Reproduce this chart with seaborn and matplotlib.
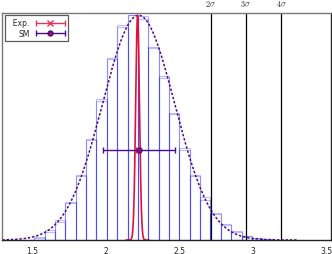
import numpy as np
import pandas as pd
import seaborn as sns
import matplotlib
matplotlib.use("Agg")
import matplotlib.pyplot as plt
from matplotlib.ticker import MultipleLocator
from matplotlib.legend_handler import HandlerErrorbar
from matplotlib.container import ErrorbarContainer

# ---------------- data ----------------
bin_edges = [1.517 + 0.0703 * k for k in range(24)]
hist_a = [0.009, 0.036, 0.080, 0.165, 0.285, 0.445, 0.627, 0.810, 0.948, 1.000,
          0.996, 0.854, 0.730, 0.565, 0.410, 0.285, 0.178, 0.116, 0.067, 0.036,
          0.018, 0.009, 0.004]
hist_b = [0.012, 0.045, 0.090, 0.170, 0.290, 0.450, 0.620, 0.805, 0.955, 1.000,
          0.985, 0.860, 0.720, 0.560, 0.400, 0.290, 0.190, 0.120, 0.070, 0.040,
          0.020, 0.010, 0.005]

sm_mean, sm_sigma = 2.225, 0.2445
exp_mean, exp_sigma = 2.218, 0.013
point_y = 0.40
sigma_lines = [2.714, 2.953, 3.194]
sigma_labels = [r"$2\sigma$", r"$3\sigma$", r"$4\sigma$"]
xticks = [1.5, 2.0, 2.5, 3.0, 3.5]
xtick_labels = ["1.5", "2", "2.5", "3", "3.5"]
legend_labels = ["Exp.", "SM"]

# ---------------- figure ----------------
sns.set_style("white")
plt.rcParams["font.family"] = ["DejaVu Sans"]
plt.rcParams["mathtext.fontset"] = "cm"

fig = plt.figure(figsize=(3.32, 2.55), dpi=100)
ax = fig.add_axes([1.5 / 332, 14 / 255, 329.5 / 332, 227 / 255])

centers = [(bin_edges[i] + bin_edges[i + 1]) / 2 for i in range(len(hist_a))]
df = pd.DataFrame({"x": centers, "a": hist_a, "b": hist_b})

sns.histplot(data=df, x="x", weights="b", bins=bin_edges, element="bars",
             fill=False, color="#0000ff", linewidth=0.8, ax=ax)
sns.histplot(data=df, x="x", weights="a", bins=bin_edges, element="bars",
             fill=False, color="#0000ff", linewidth=0.8, ax=ax)
for p in ax.patches:
    p.set_alpha(None)
    p.set_edgecolor((0.0, 0.0, 1.0, 0.26))

# SM gaussian (dashed purple)
xs = np.linspace(1.3, 3.3, 600)
sm_curve = np.exp(-0.5 * ((xs - sm_mean) / sm_sigma) ** 2)
sns.lineplot(x=xs, y=sm_curve, ax=ax, color="#4b0a8c", linewidth=1.1,
             linestyle=(0, (1.6, 1.2)))

# Exp gaussian (narrow red)
xe = np.linspace(exp_mean - 6 * exp_sigma, exp_mean + 6 * exp_sigma, 300)
exp_curve = np.exp(-0.5 * ((xe - exp_mean) / exp_sigma) ** 2)
sns.lineplot(x=xe, y=exp_curve, ax=ax, color="#e0103c", linewidth=1.2)

# sigma lines
for xv, lab in zip(sigma_lines, sigma_labels):
    ax.axvline(xv, color="black", linewidth=0.9)
    ax.text(xv, 1.045, lab, ha="center", va="center", fontsize=6,
            transform=ax.get_xaxis_transform())

# error bar points
ax.errorbar([exp_mean], [point_y], xerr=[exp_sigma], fmt="x", color="#e8325a",
            ms=4, mew=1, capsize=2, elinewidth=1, label="  " + legend_labels[0])
ax.errorbar([sm_mean], [point_y], xerr=[sm_sigma], fmt="o", color="#4b0a8c",
            mfc="#9b1050", mec="#4b0a8c", ms=3.5, mew=1, capsize=2,
            elinewidth=1, label=legend_labels[1])

ax.set_xlim(1.295, 3.53)
ax.set_ylim(0, 1.01)
ax.set_xticks(xticks)
ax.set_xticklabels(xtick_labels)
ax.xaxis.set_minor_locator(MultipleLocator(0.1))
ax.set_yticks([])
ax.set_xlabel("")
ax.set_ylabel("")
ax.tick_params(axis="x", which="both", direction="in", color="#888888",
               length=2, width=0.6, labelsize=5.5, pad=4)
ax.tick_params(axis="x", which="major", length=2.5)

for side in ["left", "top"]:
    ax.spines[side].set_color("#777777")
for side in ["bottom", "right"]:
    ax.spines[side].set_color("#222222")
for s in ax.spines.values():
    s.set_linewidth(1.0)

leg = ax.legend(loc="upper left", bbox_to_anchor=(0.011, 0.99),
                borderaxespad=0,
                markerfirst=False, fontsize=5.5,
                fancybox=False, frameon=True, edgecolor="#333333",
                handlelength=3.9, handletextpad=0.75,
                labelspacing=0.2, borderpad=0.4,
                handler_map={ErrorbarContainer: HandlerErrorbar(xerr_size=1.9)})
leg.get_frame().set_linewidth(0.9)

fig.savefig("out.png", dpi=100)
